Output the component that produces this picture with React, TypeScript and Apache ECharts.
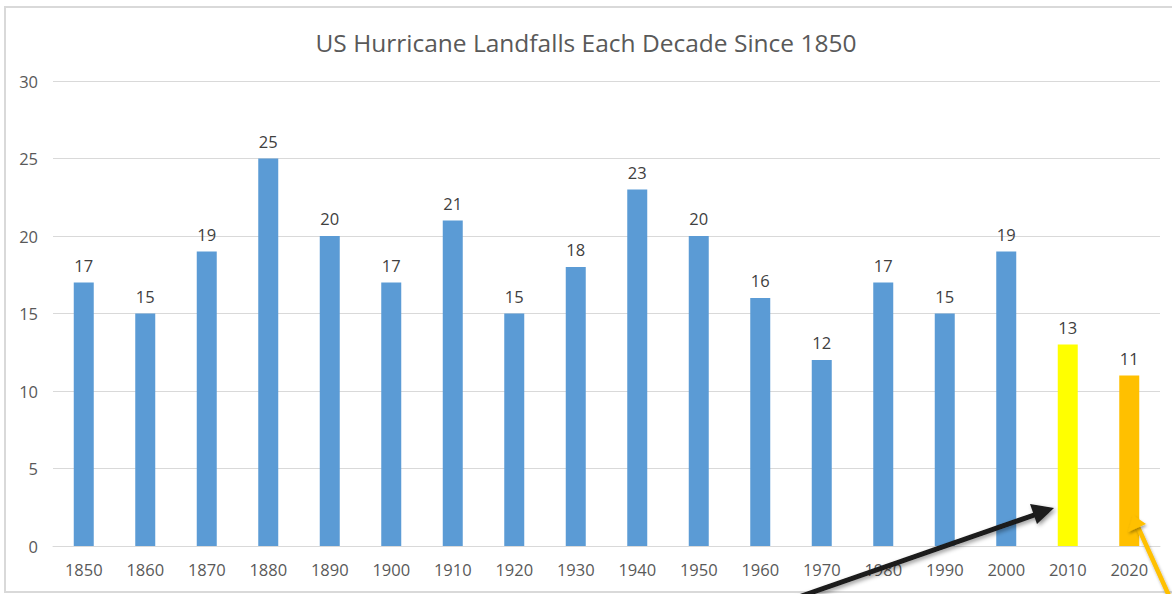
import React, { useEffect, useRef } from "react";
import * as echarts from "echarts";

const decades = ["1850","1860","1870","1880","1890","1900","1910","1920","1930","1940","1950","1960","1970","1980","1990","2000","2010","2020"];
const landfalls = [17,15,19,25,20,17,21,15,18,23,20,16,12,17,15,19,13,11];
const barColors = ["#5B9BD5","#5B9BD5","#5B9BD5","#5B9BD5","#5B9BD5","#5B9BD5","#5B9BD5","#5B9BD5","#5B9BD5","#5B9BD5","#5B9BD5","#5B9BD5","#5B9BD5","#5B9BD5","#5B9BD5","#5B9BD5","#FFFF00","#FFC000"];

const FONT = "'Open Sans', 'Noto Sans', sans-serif";

export default function App() {
  const ref = useRef<HTMLDivElement>(null);
  useEffect(() => {
    const chart = echarts.init(ref.current!, null, { renderer: "svg" });
    chart.setOption({
      animation: false,
      backgroundColor: "#ffffff",
      title: {
        text: "US Hurricane Landfalls Each Decade Since 1850",
        left: "center",
        top: 25,
        textStyle: { fontFamily: FONT, fontSize: 24.5, fontWeight: "normal", color: "#595959" },
      },
      grid: { left: 53, right: 12, top: 81, bottom: 48 },
      xAxis: {
        type: "category",
        data: decades,
        axisLine: { lineStyle: { color: "#d9d9d9", width: 1 } },
        axisTick: { show: false },
        axisLabel: { fontFamily: FONT, fontSize: 16.5, color: "#595959", margin: 15 },
      },
      yAxis: {
        type: "value",
        min: 0,
        max: 30,
        interval: 5,
        axisLine: { show: false },
        axisTick: { show: false },
        splitLine: { lineStyle: { color: "#d9d9d9", width: 1 } },
        axisLabel: { fontFamily: FONT, fontSize: 16.5, color: "#595959", margin: 15 },
      },
      series: [
        {
          type: "bar",
          barWidth: 20,
          data: landfalls.map((v, i) => ({ value: v, itemStyle: { color: barColors[i] } })),
          label: { show: true, position: "top", distance: 9, fontFamily: FONT, fontSize: 16.5, color: "#404040" },
        },
      ],
      graphic: [
        {
          type: "rect",
          shape: { x: 5, y: 7, width: 1180, height: 585 },
          style: { fill: "none", stroke: "#d9d9d9", lineWidth: 2 },
          silent: true,
        },
        {
          type: "line",
          shape: { x1: 790, y1: 600, x2: 1040, y2: 513 },
          style: { stroke: "#1a1a1a", lineWidth: 5, shadowBlur: 4, shadowColor: "rgba(0,0,0,0.4)", shadowOffsetX: 2, shadowOffsetY: 2 },
          z: 100,
        },
        {
          type: "polygon",
          shape: { points: [[1054, 508], [1030, 504], [1037, 524]] },
          style: { fill: "#1a1a1a", shadowBlur: 4, shadowColor: "rgba(0,0,0,0.4)", shadowOffsetX: 2, shadowOffsetY: 2 },
          z: 100,
        },
        {
          type: "line",
          shape: { x1: 1170, y1: 598, x2: 1138, y2: 527 },
          style: { stroke: "#FFC000", lineWidth: 4.5, shadowBlur: 3, shadowColor: "rgba(0,0,0,0.35)", shadowOffsetX: 1, shadowOffsetY: 2 },
          z: 100,
        },
        {
          type: "polygon",
          shape: { points: [[1133, 515], [1128, 532], [1146, 524]] },
          style: { fill: "#FFC000", shadowBlur: 3, shadowColor: "rgba(0,0,0,0.35)", shadowOffsetX: 1, shadowOffsetY: 2 },
          z: 100,
        },
      ],
    });
    return () => chart.dispose();
  }, []);
  return <div ref={ref} style={{ position: "fixed", left: 0, top: 0, width: 1172, height: 594 }} />;
}
